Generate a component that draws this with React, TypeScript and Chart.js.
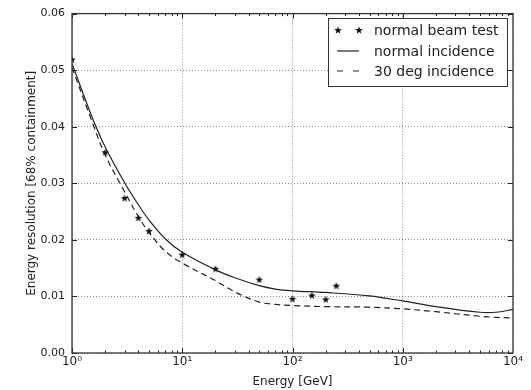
import { useEffect, useRef } from 'react';
import { Chart, registerables } from 'chart.js';

Chart.register(...registerables);

// ---- data ----
const beamEnergies = [1, 2, 3, 4, 5, 10, 20, 50, 100, 150, 200, 250];
const beamResolution = [0.0519, 0.0355, 0.0274, 0.0239, 0.0216, 0.0174, 0.0149, 0.013, 0.0096, 0.0102, 0.0095, 0.0119];

const curveEnergies = [1, 1.5, 2, 3, 4, 5, 7, 10, 20, 30, 50, 70, 100, 200, 500, 1000, 2000, 5000, 7000, 10000];
const normalIncidence = [0.0512, 0.042, 0.0364, 0.0301, 0.0262, 0.0235, 0.0202, 0.0178, 0.0147, 0.0133, 0.0119, 0.0113, 0.011, 0.0107, 0.0101, 0.0092, 0.0082, 0.0072, 0.0072, 0.0077];
const deg30Incidence = [0.0505, 0.0412, 0.035, 0.0285, 0.0241, 0.0213, 0.018, 0.0159, 0.0128, 0.0108, 0.009, 0.0086, 0.0084, 0.0082, 0.0081, 0.0078, 0.0073, 0.0065, 0.0063, 0.0062];

const seriesLabels = ['normal beam test', 'normal incidence', '30 deg incidence'];
const xTickValues = [1, 10, 100, 1000, 10000];
const xTickLabels = ['10⁰', '10¹', '10²', '10³', '10⁴'];
const yTickValues = [0, 0.01, 0.02, 0.03, 0.04, 0.05, 0.06];
const xTitle = 'Energy [GeV]';
const yTitle = 'Energy resolution [68% containment]';

const FONT = 'DejaVu Sans';
const INK = '#222';

function makeStar(size: number, color: string) {
  const c = document.createElement('canvas');
  c.width = size;
  c.height = size;
  const g = c.getContext('2d')!;
  const cx = size / 2, cy = size / 2 + 0.4;
  const R = size / 2, r = R * 0.42;
  g.beginPath();
  for (let i = 0; i < 10; i++) {
    const ang = -Math.PI / 2 + (i * Math.PI) / 5;
    const rad = i % 2 === 0 ? R : r;
    const x = cx + rad * Math.cos(ang);
    const y = cy + rad * Math.sin(ang);
    if (i === 0) g.moveTo(x, y);
    else g.lineTo(x, y);
  }
  g.closePath();
  g.fillStyle = color;
  g.fill();
  return c;
}

export default function App() {
  const ref = useRef<HTMLCanvasElement>(null);

  useEffect(() => {
    document.body.style.margin = '0';
    const canvas = ref.current!;
    const star = makeStar(8, '#111');

    const framePlugin = {
      id: 'frameAndLegend',
      afterDraw(chart: any) {
        const { ctx, chartArea: a, scales } = chart;
        const xs = scales.x, ys = scales.y;
        ctx.save();
        ctx.strokeStyle = INK;
        ctx.lineWidth = 1;
        ctx.beginPath();
        for (let d = 0; d < 4; d++) {
          for (let m = 1; m < 10; m++) {
            const v = m * Math.pow(10, d);
            const px = Math.round(xs.getPixelForValue(v)) + 0.5;
            const len = m === 1 ? 5 : 2.5;
            ctx.moveTo(px, a.bottom);
            ctx.lineTo(px, a.bottom - len);
            ctx.moveTo(px, a.top);
            ctx.lineTo(px, a.top + len);
          }
        }
        for (const v of yTickValues) {
          const py = Math.round(ys.getPixelForValue(v)) + 0.5;
          ctx.moveTo(a.left, py);
          ctx.lineTo(a.left + 5, py);
          ctx.moveTo(a.right, py);
          ctx.lineTo(a.right - 5, py);
        }
        ctx.stroke();
        ctx.lineWidth = 1.3;
        ctx.strokeStyle = '#333';
        ctx.strokeRect(a.left, a.top, a.right - a.left, a.bottom - a.top);

        // legend
        const bx = 328, by = 18, bw = 179, bh = 68;
        ctx.fillStyle = '#fff';
        ctx.fillRect(bx, by, bw, bh);
        ctx.lineWidth = 1;
        ctx.strokeStyle = '#333';
        ctx.strokeRect(bx + 0.5, by + 0.5, bw, bh);
        const rows = [30, 51, 71];
        const x0 = 337, x1 = 359;
        ctx.drawImage(star, x0 + 1 - 4, rows[0] - 4);
        ctx.drawImage(star, x1 - 4, rows[0] - 4);
        ctx.strokeStyle = INK;
        ctx.beginPath();
        ctx.lineWidth = 1.2;
        ctx.setLineDash([]);
        ctx.moveTo(x0, rows[1]);
        ctx.lineTo(x1, rows[1]);
        ctx.stroke();
        ctx.beginPath();
        ctx.setLineDash([6, 10]);
        ctx.moveTo(x0, rows[2]);
        ctx.lineTo(x1 + 1, rows[2]);
        ctx.stroke();
        ctx.setLineDash([]);
        ctx.fillStyle = INK;
        ctx.font = `14px "${FONT}"`;
        ctx.textBaseline = 'middle';
        ctx.textAlign = 'left';
        seriesLabels.forEach((t, i) => ctx.fillText(t, 374, rows[i] + 1));
        ctx.restore();
      },
    };

    const chart = new Chart(canvas, {
      type: 'line',
      data: {
        datasets: [
          {
            label: seriesLabels[0],
            data: beamEnergies.map((x, i) => ({ x, y: beamResolution[i] })),
            showLine: false,
            pointStyle: star as any,
            pointRadius: 4,
            borderColor: '#111',
            backgroundColor: '#111',
            clip: 0,
          } as any,
          {
            label: seriesLabels[1],
            data: curveEnergies.map((x, i) => ({ x, y: normalIncidence[i] })),
            borderColor: INK,
            borderWidth: 1.2,
            pointRadius: 0,
            tension: 0.35,
            fill: false,
          },
          {
            label: seriesLabels[2],
            data: curveEnergies.map((x, i) => ({ x, y: deg30Incidence[i] })),
            borderColor: INK,
            borderWidth: 1.2,
            borderDash: [6, 4],
            pointRadius: 0,
            tension: 0.35,
            fill: false,
          },
        ],
      },
      options: {
        responsive: false,
        animation: false,
        layout: { padding: { top: 11, right: 18, left: 23, bottom: 0 } },
        plugins: {
          legend: { display: false },
          tooltip: { enabled: false },
        },
        scales: {
          x: {
            type: 'logarithmic',
            min: 1,
            max: 10000,
            afterBuildTicks: (s: any) => {
              s.ticks = xTickValues.map((v) => ({ value: v, major: true }));
            },
            afterFit: (s: any) => {
              s.height = 37;
            },
            ticks: {
              autoSkip: false,
              maxRotation: 0,
              padding: 2,
              color: INK,
              font: { family: FONT, size: 12 },
              callback: (v: any) => {
                const i = xTickValues.indexOf(Number(v));
                return i >= 0 ? xTickLabels[i] : '';
              },
            },
            grid: { color: 'rgba(0,0,0,0.45)', lineWidth: 1, drawTicks: false },
            border: { display: false, dash: [1, 2] },
            title: {
              display: true,
              text: xTitle,
              color: INK,
              font: { family: FONT, size: 12 },
              padding: { top: 0, bottom: 1 },
            },
          },
          y: {
            type: 'linear',
            min: 0,
            max: 0.06,
            afterBuildTicks: (s: any) => {
              s.ticks = yTickValues.map((v) => ({ value: v }));
            },
            afterFit: (s: any) => {
              s.width = 49;
            },
            ticks: {
              padding: 7,
              color: INK,
              font: { family: FONT, size: 11 },
              callback: (v: any) => Number(v).toFixed(2),
            },
            grid: { color: 'rgba(0,0,0,0.45)', lineWidth: 1, drawTicks: false },
            border: { display: false, dash: [1, 2] },
            title: {
              display: true,
              text: yTitle,
              color: INK,
              font: { family: FONT, size: 12 },
              padding: { top: 2, bottom: 0 },
            },
          },
        },
      },
      plugins: [framePlugin],
    });

    return () => chart.destroy();
  }, []);

  return (
    <div style={{ width: 531, height: 390 }}>
      <canvas ref={ref} width={531} height={390} style={{ display: 'block' }} />
    </div>
  );
}
